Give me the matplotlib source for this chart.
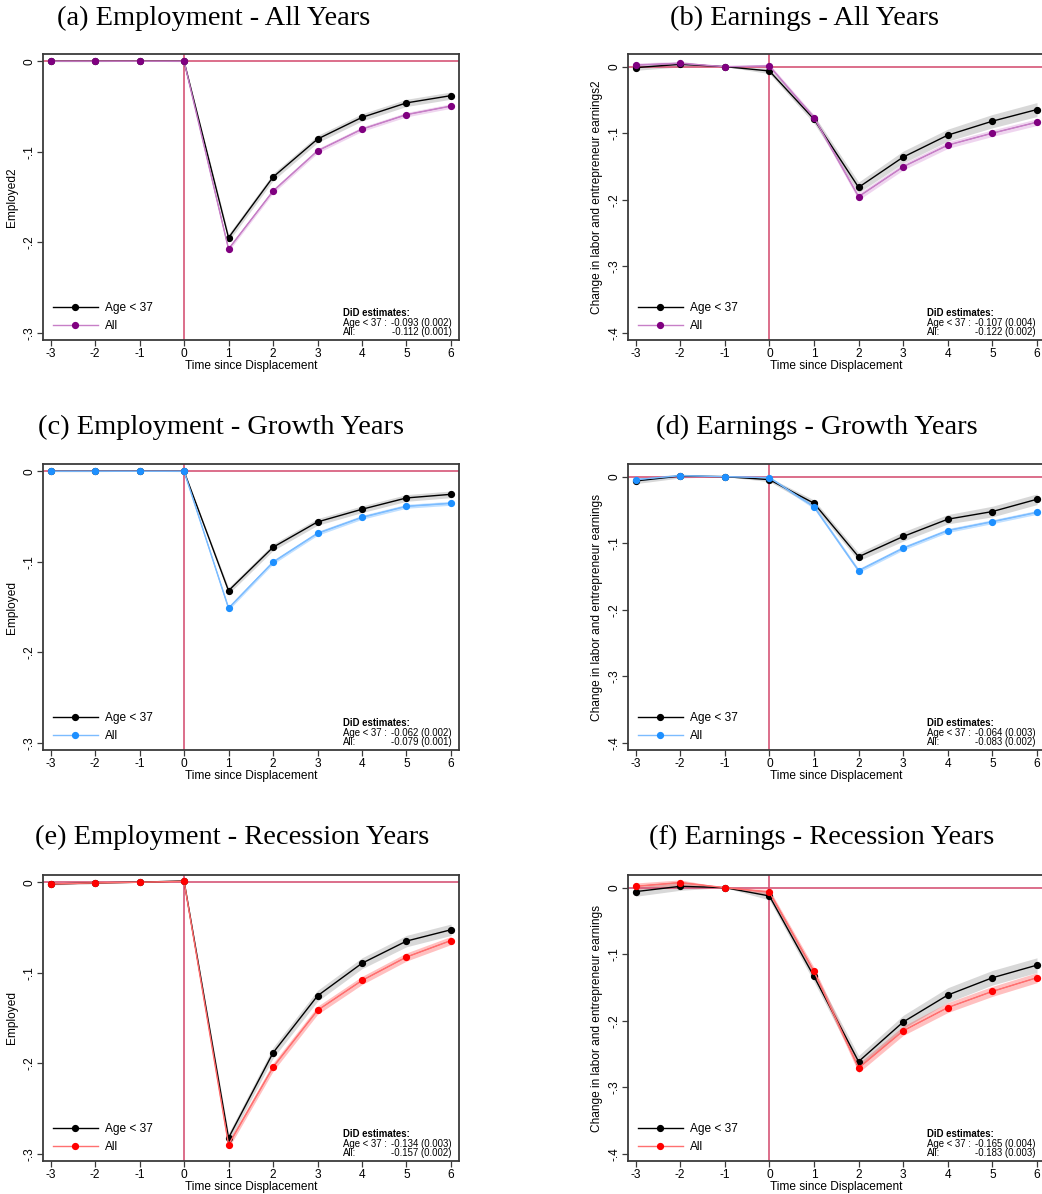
import numpy as np
import matplotlib
matplotlib.use("Agg")
import matplotlib.pyplot as plt

plt.rcParams['font.family'] = ['Liberation Sans', 'DejaVu Sans']

# ---- data -------------------------------------------------------------
years = [-3, -2, -1, 0, 1, 2, 3, 4, 5, 6]

titles = ["(a) Employment - All Years", "(b) Earnings - All Years",
          "(c) Employment - Growth Years", "(d) Earnings - Growth Years",
          "(e) Employment - Recession Years", "(f) Earnings - Recession Years"]

ylabels = ["Employed2", "Change in labor and entrepreneur earnings2",
           "Employed", "Change in labor and entrepreneur earnings",
           "Employed", "Change in labor and entrepreneur earnings"]

emp_ticks = [-0.3, -0.2, -0.1, 0.0]
emp_tick_labels = ["-.3", "-.2", "-.1", "0"]
earn_ticks = [-0.4, -0.3, -0.2, -0.1, 0.0]
earn_tick_labels = ["-.4", "-.3", "-.2", "-.1", "0"]

# Age < 37 estimates and CI half-widths
young_a = [0.0, 0.0, 0.0, 0.0, -0.195, -0.128, -0.086, -0.062, -0.046, -0.038]
young_a_ci = [0.0005, 0.0005, 0.0, 0.0005, 0.004, 0.004, 0.004, 0.004, 0.004, 0.004]
young_b = [-0.0015, 0.0035, 0.0, -0.0065, -0.079, -0.1815, -0.136, -0.103, -0.082, -0.0645]
young_b_ci = [0.004, 0.004, 0.0, 0.004, 0.006, 0.008, 0.009, 0.009, 0.010, 0.0105]
young_c = [0.0, 0.0, 0.0, 0.0, -0.132, -0.084, -0.056, -0.042, -0.0295, -0.0255]
young_c_ci = [0.0005, 0.0005, 0.0, 0.0005, 0.0035, 0.0037, 0.0037, 0.0037, 0.0037, 0.0037]
young_d = [-0.0065, 0.001, 0.0, -0.0045, -0.040, -0.1205, -0.090, -0.064, -0.0525, -0.034]
young_d_ci = [0.004, 0.003, 0.0, 0.003, 0.005, 0.006, 0.007, 0.007, 0.008, 0.008]
young_e = [-0.002, -0.0007, 0.0, 0.0015, -0.2825, -0.1885, -0.1255, -0.0895, -0.065, -0.0525]
young_e_ci = [0.001, 0.001, 0.0, 0.001, 0.005, 0.006, 0.006, 0.006, 0.0063, 0.0063]
young_f = [-0.006, 0.002, 0.0, -0.0125, -0.1335, -0.2615, -0.202, -0.1615, -0.1355, -0.1165]
young_f_ci = [0.007, 0.006, 0.0, 0.006, 0.008, 0.009, 0.010, 0.011, 0.011, 0.011]

# All displaced workers estimates and CI half-widths
all_a = [0.0, 0.0, 0.0, 0.0, -0.2075, -0.1435, -0.099, -0.075, -0.059, -0.0495]
all_a_ci = [0.0003, 0.0003, 0.0, 0.0003, 0.0025, 0.0025, 0.0025, 0.0025, 0.0025, 0.0025]
all_b = [0.0025, 0.005, 0.0, 0.001, -0.0765, -0.1955, -0.1505, -0.118, -0.100, -0.0835]
all_b_ci = [0.003, 0.003, 0.0, 0.003, 0.004, 0.005, 0.005, 0.005, 0.005, 0.005]
all_c = [0.0, 0.0, 0.0, 0.0, -0.1513, -0.1004, -0.0686, -0.0509, -0.0387, -0.0354]
all_c_ci = [0.0003, 0.0003, 0.0, 0.0003, 0.0022, 0.0022, 0.0022, 0.0022, 0.0022, 0.0022]
all_d = [-0.0045, 0.0015, 0.0, -0.0015, -0.0453, -0.1413, -0.1075, -0.081, -0.0677, -0.0537]
all_d_ci = [0.002, 0.002, 0.0, 0.002, 0.003, 0.003, 0.003, 0.003, 0.003, 0.003]
all_e = [-0.0019, -0.0007, 0.0, 0.0011, -0.290, -0.2044, -0.1415, -0.1085, -0.0826, -0.0644]
all_e_ci = [0.0006, 0.0006, 0.0, 0.0006, 0.004, 0.0045, 0.0045, 0.0045, 0.0045, 0.0045]
all_f = [0.002, 0.0076, 0.0, -0.0066, -0.1258, -0.2712, -0.2152, -0.1803, -0.156, -0.1354]
all_f_ci = [0.005, 0.004, 0.0, 0.004, 0.006, 0.007, 0.007, 0.0075, 0.0075, 0.0075]

did_young = ["-0.093 (0.002)", "-0.107 (0.004)", "-0.062 (0.002)",
             "-0.064 (0.003)", "-0.134 (0.003)", "-0.165 (0.004)"]
did_all = ["-0.112 (0.001)", "-0.122 (0.002)", "-0.079 (0.001)",
           "-0.083 (0.002)", "-0.157 (0.002)", "-0.183 (0.003)"]

# marker colour, line colour, band colour for the "All" series per row
row_colors = [("#800080", "#c77fc7", "#cc77cc"),
              ("#1e90ff", "#7cbcff", "#3399ff"),
              ("#ff0000", "#ff7070", "#ff3030")]

young_series = [young_a, young_b, young_c, young_d, young_e, young_f]
young_cis = [young_a_ci, young_b_ci, young_c_ci, young_d_ci, young_e_ci, young_f_ci]
all_series = [all_a, all_b, all_c, all_d, all_e, all_f]
all_cis = [all_a_ci, all_b_ci, all_c_ci, all_d_ci, all_e_ci, all_f_ci]

# ---- layout -----------------------------------------------------------
W, H = 1042, 1194
fig = plt.figure(figsize=(W / 100, H / 100), dpi=100)

col_left = [43, 628]
col_width = [416, 417]
row_top = [54, 464, 875]
ax_h = 286
title_y = [18, 427, 837]
title_cx = [214, 805, 221, 817, 232, 822]

ref_color = "#d65577"
frame_color = "#3a3a3a"

for i in range(6):
    r, c = divmod(i, 2)
    x0 = col_left[c]
    y0 = row_top[r]
    ax = fig.add_axes([x0 / W, 1 - (y0 + ax_h) / H, col_width[c] / W, ax_h / H])

    mcol, lcol, bcol = row_colors[r]
    t = np.array(years, dtype=float)
    yv = np.array(young_series[i]); yc = np.array(young_cis[i])
    av = np.array(all_series[i]); ac = np.array(all_cis[i])

    ax.fill_between(t, yv - yc, yv + yc, color="#b8b8b8", alpha=0.55, lw=0, zorder=1)
    ax.fill_between(t, av - ac, av + ac, color=bcol, alpha=0.3, lw=0, zorder=1)

    ax.axhline(0, color=ref_color, lw=1.2, zorder=2)
    ax.axvline(0, color=ref_color, lw=1.2, zorder=2)

    h1, = ax.plot(t, yv, color="black", lw=1.0, marker="o", ms=4.2,
                  mfc="black", mec="black", zorder=4, label="Age < 37")
    h2, = ax.plot(t, av, color=lcol, lw=1.0, marker="o", ms=4.2,
                  mfc=mcol, mec=mcol, zorder=5, label="All")
    ax.plot(t, av, color=mcol, lw=0.6, alpha=0.6, zorder=4.5)

    ax.set_xlim(-3.17, 6.18)
    if c == 0:
        ax.set_ylim(-0.308, 0.008)
        ax.set_yticks(emp_ticks)
        ax.set_yticklabels(emp_tick_labels)
    else:
        ax.set_ylim(-0.411, 0.019)
        ax.set_yticks(earn_ticks)
        ax.set_yticklabels(earn_tick_labels)
    ax.set_xticks(years)
    ax.set_xticklabels([str(v) for v in years])

    for lab in ax.get_yticklabels():
        lab.set_rotation(90)
        lab.set_va("center")
    ax.tick_params(axis="both", direction="out", length=4, width=0.9,
                   labelsize=8.6, color=frame_color, pad=1.5)
    ax.tick_params(axis="x", pad=1.5)

    for sp in ax.spines.values():
        sp.set_color(frame_color)
        sp.set_linewidth(1.3)

    ax.set_xlabel("Time since Displacement", fontsize=8.6, labelpad=0)
    ax.set_ylabel(ylabels[i], fontsize=8.6, labelpad=4)

    ax.legend(handles=[h1, h2], loc="lower left", frameon=False,
              fontsize=8.6, handlelength=3.8, handletextpad=0.55,
              labelspacing=0.45, borderaxespad=0.0,
              bbox_to_anchor=(0.012, 0.012))

    # DiD summary block
    tx = 0.72 if c == 0 else 0.717
    rx = 0.983 if c == 0 else 0.978
    fs = 6.9
    ax.text(tx, 0.094, "DiD estimates:", transform=ax.transAxes,
            fontsize=fs, fontweight="bold", ha="left", va="center")
    ax.text(tx, 0.060, "Age < 37 :", transform=ax.transAxes,
            fontsize=fs, ha="left", va="center")
    ax.text(rx, 0.060, did_young[i], transform=ax.transAxes,
            fontsize=fs, ha="right", va="center")
    ax.text(tx, 0.029, "All:", transform=ax.transAxes,
            fontsize=fs, ha="left", va="center")
    ax.text(rx, 0.029, did_all[i], transform=ax.transAxes,
            fontsize=fs, ha="right", va="center")

    # panel title
    fig.text(title_cx[i] / W, 1 - title_y[r] / H, titles[i], ha="center", va="center",
             fontsize=20.5, family=["Liberation Serif", "DejaVu Serif"])

fig.savefig("out.png", dpi=100, facecolor="white")
